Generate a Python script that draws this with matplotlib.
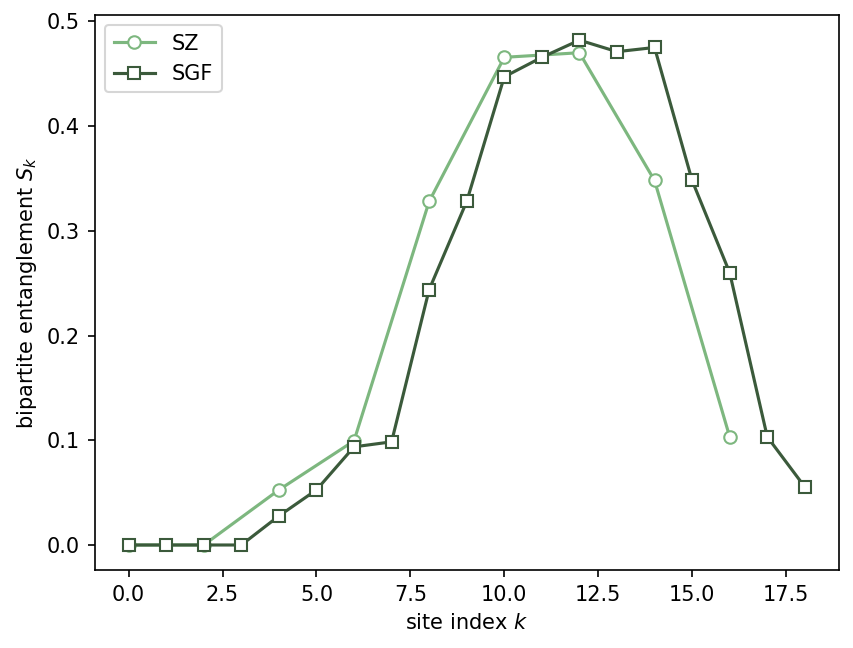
import matplotlib
matplotlib.use("Agg")
import matplotlib.pyplot as plt
import numpy as np

# site indices
sites_sz = np.arange(0, 17, 2)
sites_sgf = np.arange(0, 19)

# bipartite entanglement per site
ent_sz = [0.0, 0.0, 0.0526, 0.0994, 0.328, 0.4656, 0.470, 0.348, 0.1033]
ent_sgf = [0.0, 0.0, 0.0, 0.0, 0.0277, 0.0526, 0.0937, 0.0985, 0.2438, 0.328,
           0.447, 0.4656, 0.482, 0.471, 0.475, 0.348, 0.260, 0.1033, 0.0554]

light = "#7db77f"
dark = "#3b5a3b"

fig, ax = plt.subplots(figsize=(8.54 / 1.5, 6.48 / 1.5), dpi=150)
fig.subplots_adjust(left=0.111, right=0.982, top=0.977, bottom=0.120)
ax.plot(sites_sz, ent_sz, "-o", color=light, markerfacecolor="white",
        markeredgecolor=light, markersize=6, linewidth=1.5, label="SZ")
ax.plot(sites_sgf, ent_sgf, "-s", color=dark, markerfacecolor="white",
        markeredgecolor=dark, markersize=6, linewidth=1.5, label="SGF")
ax.set_xlabel("site index $k$")
ax.set_ylabel("bipartite entanglement $S_k$")
ax.legend(loc="upper left")
plt.savefig("out.png", dpi=150)
